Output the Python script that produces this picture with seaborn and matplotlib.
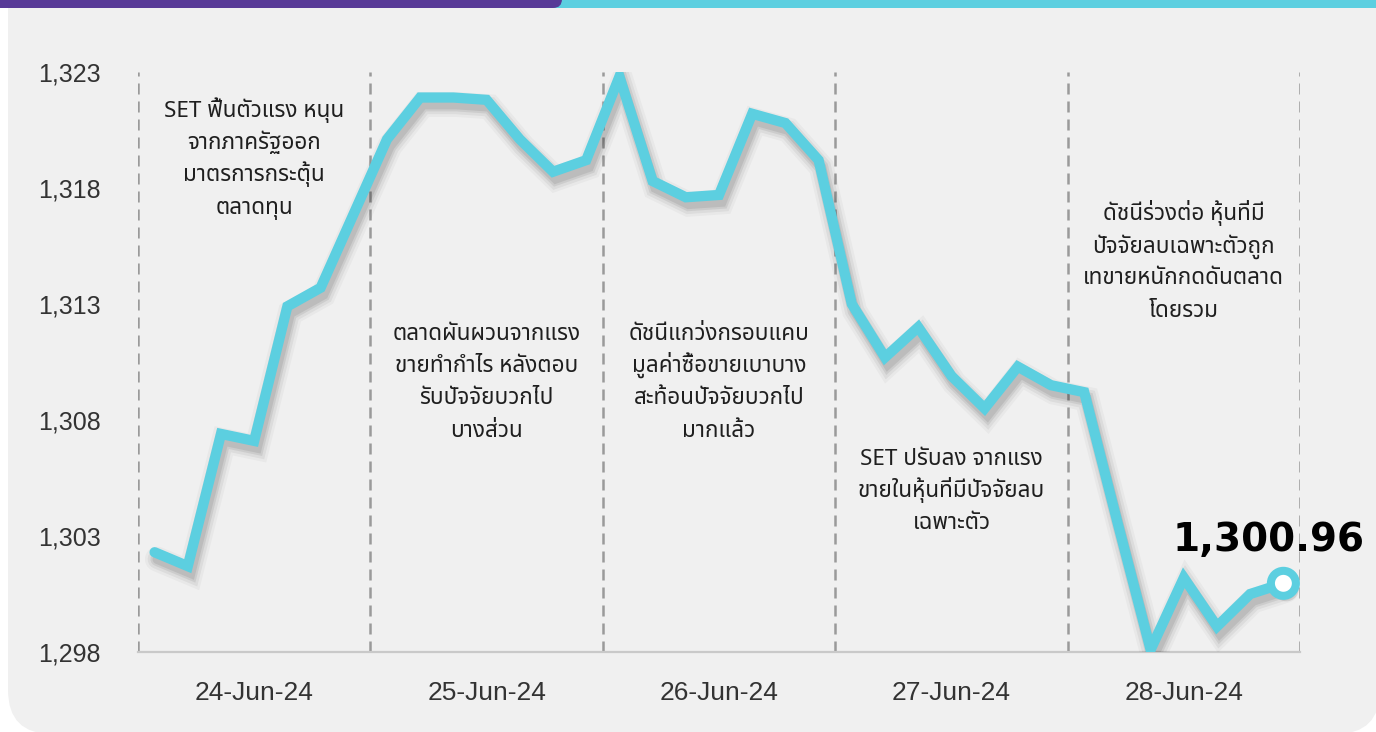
import matplotlib
matplotlib.use("Agg")
import numpy as np
import pandas as pd
import seaborn as sns
import matplotlib.pyplot as plt
from matplotlib import font_manager, ft2font
from matplotlib import patheffects as pe
from matplotlib.patches import FancyBboxPatch, Rectangle
from matplotlib.transforms import IdentityTransform
from matplotlib.ticker import FixedLocator, NullFormatter

# ---------------- data ----------------
dates = ["24-Jun-24", "25-Jun-24", "26-Jun-24", "27-Jun-24", "28-Jun-24"]
points_per_day = 7
set_index = [
    1302.3, 1301.7, 1307.4, 1307.1, 1312.9, 1313.7, 1316.9,
    1320.1, 1321.9, 1321.9, 1321.8, 1320.1, 1318.7, 1319.2,
    1322.8, 1318.3, 1317.6, 1317.7, 1321.2, 1320.8, 1319.2,
    1313.0, 1310.7, 1312.0, 1309.9, 1308.5, 1310.3, 1309.5,
    1309.2, 1303.6, 1298.1, 1301.2, 1299.1, 1300.5, 1300.96,
]
y_ticks = [1298, 1303, 1308, 1313, 1318, 1323]
last_label = "1,300.96"
notes = [
    ["SET ฟื้นตัวแรง หนุน", "จากภาครัฐออก", "มาตรการกระตุ้น", "ตลาดทุน"],
    ["ตลาดผันผวนจากแรง", "ขายทำกำไร หลังตอบ", "รับปัจจัยบวกไป", "บางส่วน"],
    ["ดัชนีแกว่งกรอบแคบ", "มูลค่าซื้อขายเบาบาง", "สะท้อนปัจจัยบวกไป", "มากแล้ว"],
    ["SET ปรับลง จากแรง", "ขายในหุ้นที่มีปัจจัยลบ", "เฉพาะตัว"],
    ["ดัชนีร่วงต่อ หุ้นที่มี", "ปัจจัยลบเฉพาะตัวถูก", "เทขายหนักกดดันตลาด", "โดยรวม"],
]
# level (index value) of the first text baseline in each day column
note_levels = [1321.06, 1311.45, 1311.45, 1306.06, 1316.62]

# ---------------- fonts ----------------
def thai_fonts():
    found = []
    for f in font_manager.fontManager.ttflist:
        try:
            cm = ft2font.FT2Font(f.fname).get_charmap()
        except Exception:
            continue
        if 0x0E01 in cm and 0x0E49 in cm and f.name not in found:
            found.append(f.name)
    return found

sns.set_style("white")
tf = thai_fonts()
thai = next((c for c in ["Noto Sans Thai", "IBM Plex Sans Thai", "Kanit", "Prompt", "Loma"]
             if c in tf), tf[0] if tf else "DejaVu Sans")
plt.rcParams["font.family"] = [thai, "Liberation Sans", "DejaVu Sans"]
num_font = ["Liberation Sans", "DejaVu Sans"]
bold_font = ["DejaVu Sans"]

# ---------------- figure ----------------
W, H = 1376, 732
fig = plt.figure(figsize=(W / 100, H / 100), dpi=100)
fig.patch.set_facecolor("white")

fig.add_artist(FancyBboxPatch((8, -2), 1372, H + 60, boxstyle="round,pad=0,rounding_size=44",
                              transform=IdentityTransform(), facecolor="#f0f0f0",
                              edgecolor="none", zorder=0))
fig.add_artist(Rectangle((530, H - 8), 900, 20, transform=IdentityTransform(),
                         facecolor="#5ccfe0", edgecolor="none", zorder=1))
fig.add_artist(FancyBboxPatch((-30, H - 8), 592, 40, boxstyle="round,pad=0,rounding_size=9",
                              transform=IdentityTransform(), facecolor="#583a97",
                              edgecolor="none", zorder=2))

ax = fig.add_axes([138 / W, 80 / H, (1300 - 138) / W, (652 - 72) / H])
ax.set_facecolor("none")

n = len(set_index)
df = pd.DataFrame({"i": np.arange(n), "SET": set_index})
line_color = "#5ccfe0"
sns.lineplot(data=df, x="i", y="SET", ax=ax, color=line_color, linewidth=7.4,
             solid_joinstyle="miter", solid_capstyle="round", zorder=5)
ln = ax.lines[0]
shadows = [pe.SimpleLineShadow(offset=(2, -5), shadow_color="#000000", alpha=a, linewidth=w)
           for w, a in [(18, 0.03), (14, 0.05), (10, 0.07), (7, 0.08)]]
ln.set_path_effects(shadows + [pe.Normal()])

ax.plot([n - 1], [set_index[-1]], marker="o", markersize=18, markerfacecolor="white",
        markeredgecolor=line_color, markeredgewidth=5.8, zorder=7, clip_on=False,
        path_effects=[pe.SimplePatchShadow(offset=(2, -4), alpha=0.15), pe.Normal()])
ax.annotate(last_label, xy=(n - 1, set_index[-1]), xytext=(-11, 31),
            textcoords="offset points", ha="center", va="center",
            fontsize=28, fontweight="bold", color="#000000",
            family=bold_font, zorder=8)

ax.set_xlim(-0.5, n - 0.5)
ax.set_ylim(y_ticks[0], y_ticks[-1])

bounds = [k * points_per_day - 0.5 for k in range(len(dates) + 1)]
for b in bounds:
    ax.axvline(b, color="#9a9a9a", linewidth=1.8, linestyle=(0, (4.4, 2.8)), zorder=2)

line_step = 23.2  # points between text baselines
for k, (lines, lvl) in enumerate(zip(notes, note_levels)):
    for j, txt in enumerate(lines):
        ax.annotate(txt, xy=(k * points_per_day + 3, lvl), xytext=(0, -j * line_step),
                    textcoords="offset points", ha="center", va="baseline",
                    fontsize=16.2, color="#1f1f1f", zorder=4)

for s in ["top", "right", "left"]:
    ax.spines[s].set_visible(False)
ax.spines["bottom"].set_color("#c9c9c9")
ax.spines["bottom"].set_linewidth(1.6)

ax.set_yticks(y_ticks)
ax.set_yticklabels([f"{v:,}" for v in y_ticks], family=num_font)
ax.tick_params(axis="y", length=0, pad=27, labelsize=18, labelcolor="#333333")

centers = [k * points_per_day + 3 for k in range(len(dates))]
ax.set_xticks(centers)
ax.set_xticklabels(dates, family=num_font)
ax.tick_params(axis="x", which="major", length=0, pad=21, labelsize=19, labelcolor="#333333")
ax.xaxis.set_minor_locator(FixedLocator(bounds))
ax.xaxis.set_minor_formatter(NullFormatter())
ax.tick_params(axis="x", which="minor", length=4, width=1.2, color="#c9c9c9")
ax.set_xlabel("")
ax.set_ylabel("")
ax.grid(False)

fig.savefig("out.png", dpi=100, facecolor=fig.get_facecolor())
